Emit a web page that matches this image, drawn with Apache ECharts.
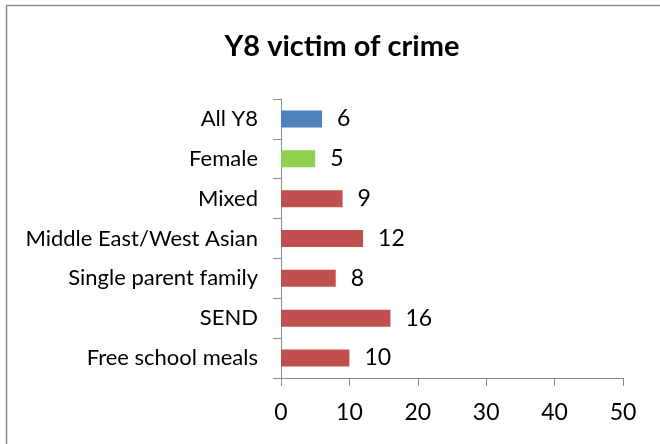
<!DOCTYPE html>
<html>
<head>
<meta charset="utf-8">
<script src="https://cdn.jsdelivr.net/npm/echarts@6/dist/echarts.min.js"></script>
<style>
  html, body { margin: 0; padding: 0; background: #fff; }
  #chart { width: 660px; height: 444px; }
</style>
</head>
<body>
<div id="chart"></div>
<script>
// Groups shown top to bottom
const categories = [
  'All Y8',
  'Female',
  'Mixed',
  'Middle East/West Asian',
  'Single parent family',
  'SEND',
  'Free school meals'
];
const values = [6, 5, 9, 12, 8, 16, 10];
const barColors = ['#4F81BD', '#92D050', '#C0504D', '#C0504D', '#C0504D', '#C0504D', '#C0504D'];
const xTicks = [0, 10, 20, 30, 40, 50];

const FONT = 'Lato, "Open Sans", sans-serif';

const chart = echarts.init(document.getElementById('chart'), null, { renderer: 'canvas' });

chart.setOption({
  animation: false,
  backgroundColor: '#fff',
  title: {
    text: 'Y8 victim of crime',
    left: 337,
    textAlign: 'center',
    top: 27,
    textStyle: { fontFamily: FONT, fontSize: 29, fontWeight: 'bold', color: '#000' }
  },
  graphic: [{
    type: 'rect',
    shape: { x: 6.5, y: 5.5, width: 700, height: 500 },
    style: { fill: 'none', stroke: '#8c8c8c', lineWidth: 1.5 },
    silent: true
  }],
  grid: { left: 281, right: 37, top: 99, bottom: 66, containLabel: false },
  xAxis: {
    type: 'value',
    min: xTicks[0],
    max: xTicks[xTicks.length - 1],
    interval: 10,
    splitLine: { show: false },
    axisLine: { show: true, lineStyle: { color: '#8c8c8c', width: 1 } },
    axisTick: { show: true, length: 8, lineStyle: { color: '#8c8c8c' } },
    axisLabel: { margin: 23, fontFamily: FONT, fontSize: 23, color: '#000' }
  },
  yAxis: {
    type: 'category',
    inverse: true,
    data: categories,
    axisLine: { show: true, lineStyle: { color: '#8c8c8c', width: 1 } },
    axisTick: { show: true, length: 8, alignWithLabel: false, lineStyle: { color: '#8c8c8c' } },
    axisLabel: { margin: 23, fontFamily: FONT, fontSize: 22, color: '#000' }
  },
  series: [{
    type: 'bar',
    barWidth: 17,
    data: values.map((v, i) => ({ value: v, itemStyle: { color: barColors[i] } })),
    label: {
      show: true,
      position: 'right',
      distance: 15,
      fontFamily: FONT,
      fontSize: 23,
      color: '#000'
    }
  }]
});
</script>
</body>
</html>
